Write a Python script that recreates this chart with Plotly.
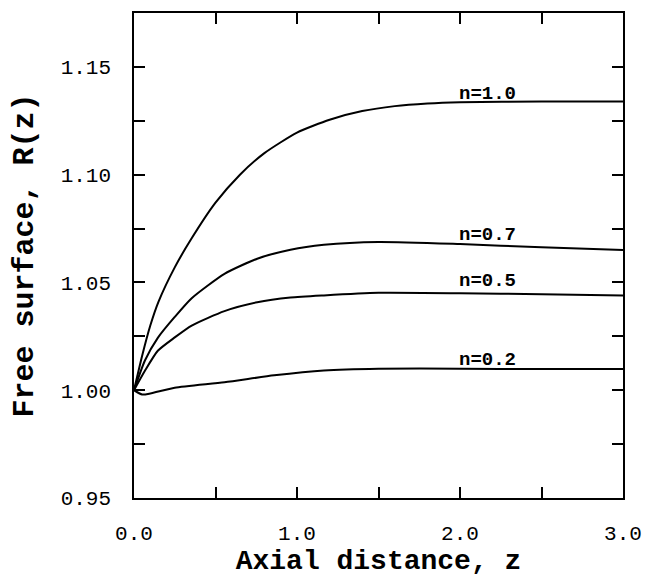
import plotly.graph_objects as go

# Free-surface profiles R(z) for several power-law indices n
z_n10 = [0, 0.05, 0.1, 0.15, 0.25, 0.35, 0.5, 0.65, 0.8, 1.0, 1.2, 1.4, 1.6, 1.8, 2.0, 2.5, 3.0]
r_n10 = [1.000, 1.016, 1.030, 1.041, 1.057, 1.070, 1.087, 1.100, 1.110, 1.1195, 1.1255,
         1.1295, 1.1318, 1.133, 1.1336, 1.134, 1.134]

z_n07 = [0, 0.067, 0.146, 0.25, 0.354, 0.555, 0.756, 0.96, 1.165, 1.5, 2.0, 2.5, 3.0]
r_n07 = [1.000, 1.0138, 1.0243, 1.034, 1.0427, 1.054, 1.061, 1.0652, 1.0675, 1.0688,
         1.0678, 1.0663, 1.065]

z_n05 = [0, 0.067, 0.146, 0.25, 0.354, 0.555, 0.756, 0.96, 1.165, 1.5, 2.0, 2.5, 3.0]
r_n05 = [1.000, 1.009, 1.0183, 1.0245, 1.030, 1.0367, 1.0408, 1.043, 1.044, 1.0452,
         1.045, 1.0445, 1.044]

z_n02 = [0, 0.05, 0.1, 0.25, 0.555, 0.86, 1.165, 1.5, 2.0, 2.5, 3.0]
r_n02 = [1.000, 0.998, 0.9985, 1.0012, 1.0037, 1.0069, 1.0092, 1.0100, 1.0100, 1.0098, 1.0098]

labels = ["n=1.0", "n=0.7", "n=0.5", "n=0.2"]
label_z = [2.17, 2.17, 2.17, 2.17]
label_r = [1.1376, 1.072, 1.0505, 1.0142]

FONT = "Liberation Mono, Courier New, monospace"

fig = go.Figure()
for zs, rs in [(z_n10, r_n10), (z_n07, r_n07), (z_n05, r_n05), (z_n02, r_n02)]:
    fig.add_trace(go.Scatter(
        x=zs, y=rs, mode="lines",
        line=dict(color="black", width=2, shape="spline", smoothing=0.6),
        showlegend=False, hoverinfo="skip"
    ))

for txt, lx, ly in zip(labels, label_z, label_r):
    fig.add_annotation(x=lx, y=ly, text="<b>" + txt + "</b>", showarrow=False,
                       xanchor="center", yanchor="middle",
                       font=dict(family=FONT, size=19, color="black"))

axis_common = dict(
    showline=True, linecolor="black", linewidth=1.5, mirror="ticks",
    ticks="inside", ticklen=11, tickwidth=1.5, tickcolor="black",
    showgrid=False, zeroline=False,
    tickfont=dict(family=FONT, size=21, color="black"),
)

# page body has an 8px margin, so the figure is sized to fit the window
fig.update_layout(
    width=642, height=572,
    margin=dict(l=126, r=27, t=3, b=82),
    paper_bgcolor="white", plot_bgcolor="white",
    xaxis=dict(
        range=[0, 3.0], tickvals=[0, 1, 2, 3], tickformat=".1f",
        minor=dict(dtick=0.5, ticks="inside", ticklen=11, tickwidth=1.5, tickcolor="black"),
        ticklabelstandoff=15,
        title=dict(text="<b>Axial distance, z</b>", standoff=0,
                   font=dict(family=FONT, size=28, color="black")),
        **axis_common
    ),
    yaxis=dict(
        range=[0.95, 1.175], tickvals=[0.95, 1.00, 1.05, 1.10, 1.15], tickformat=".2f",
        minor=dict(dtick=0.025, ticks="inside", ticklen=11, tickwidth=1.5, tickcolor="black"),
        ticklabelstandoff=17,
        title=dict(text="<b>Free surface, R(z)</b>", standoff=24,
                   font=dict(family=FONT, size=30, color="black")),
        **axis_common
    ),
)

fig.write_html("out.html")
